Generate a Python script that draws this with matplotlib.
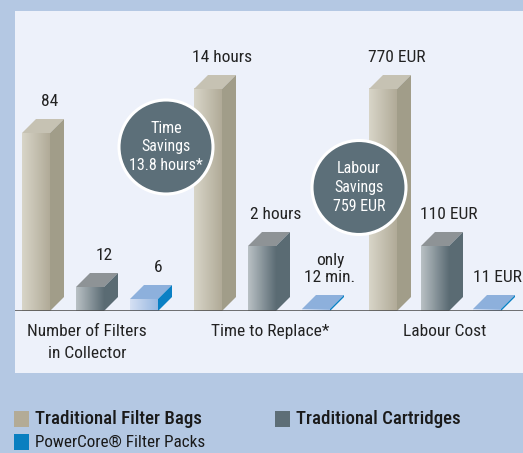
import numpy as np
import matplotlib
matplotlib.use("Agg")
import matplotlib.pyplot as plt
from matplotlib.patches import Polygon, Circle, Rectangle
from matplotlib.colors import LinearSegmentedColormap

plt.rcParams['font.family'] = ['Roboto Condensed', 'DejaVu Sans']

# data: bar heights (relative units), plus the printed labels
categories = ["Number of Filters\nin Collector", "Time to Replace*", "Labour Cost"]
series = ["Traditional Filter Bags", "Traditional Cartridges", "PowerCore® Filter Packs"]
bags_height = [178, 222, 222]
cartridges_height = [24, 65, 65]
packs_height = [12, 2, 2]
bags_labels = ["84", "14 hours", "770 EUR"]
cartridges_labels = ["12", "2 hours", "110 EUR"]
packs_labels = ["6", "only\n12 min.", "11 EUR"]
bubbles = ["Time\nSavings\n13.8 hours*", "Labour\nSavings\n759 EUR"]

# styles: (front left, front right, top, side)
colors = [
    ("#d8d5c8", "#b1ab98", "#c6c2b3", "#a19d89"),
    ("#b9c0c4", "#5c6d75", "#8e9396", "#5a6b73"),
    ("#d5e0f3", "#98b8e1", "#8db0dc", "#0a80c4"),
]
legend_colors = ["#b3ab96", "#5d6e77", "#0a7fc0"]
outer_bg = "#b4c8e3"
inner_bg = "#edf1fa"
bubble_color = "#5c6f79"

W, H = 523, 453
fig = plt.figure(figsize=(W / 100, H / 100), dpi=100, facecolor=outer_bg)

# inner panel
fig.patches.append(Rectangle((15 / W, (H - 373) / H), 1 - 15 / W, 362 / H,
                             transform=fig.transFigure, facecolor=inner_bg,
                             edgecolor="none", zorder=-5))

# axes: 1 data unit = 1 pixel, baseline at y=0
ax = fig.add_axes([15 / W, (H - 311) / H, 508 / W, 300 / H])
ax.set_zorder(1)
ax.set_facecolor("none")
ax.axis("off")

group_start = [7, 179, 354]
bar_pitch = [54, 54, 52]
bar_w = 28
depth = 14

heights = [bags_height, cartridges_height, packs_height]
labels = [bags_labels, cartridges_labels, packs_labels]

for s in range(3):
    fl, fr, top_c, side_c = colors[s]
    cmap = LinearSegmentedColormap.from_list("g%d" % s, [fl, fr])
    for g in range(3):
        x = group_start[g] + s * bar_pitch[g]
        h = heights[s][g]
        grad = np.linspace(0, 1, 64).reshape(1, -1)
        ax.imshow(grad, extent=[x, x + bar_w, 0, h], aspect="auto", cmap=cmap,
                  interpolation="bilinear", zorder=2)
        ax.add_patch(Polygon([(x, h), (x + bar_w, h), (x + bar_w + depth, h + depth),
                              (x + depth, h + depth)], closed=True,
                             facecolor=top_c, edgecolor="none", zorder=2))
        ax.add_patch(Polygon([(x + bar_w, 0), (x + bar_w + depth, depth),
                              (x + bar_w + depth, h + depth), (x + bar_w, h)],
                             closed=True, facecolor=side_c, edgecolor="none", zorder=2))
        # last label sits against the right edge
        lbl_x = x + bar_w if (s, g) != (2, 2) else x + bar_w - 4
        ax.text(lbl_x, h + depth + 10, labels[s][g], ha="center", va="bottom",
                fontsize=12.5, color="#222222", linespacing=1.2)

ax.axhline(0, color="#4a4a4a", lw=1.1, zorder=3)

cat_x = [72, 255, 430]
for g, name in enumerate(categories):
    ax.text(cat_x[g], -13, name, ha="center", va="top", fontsize=12.5,
            color="#222222", linespacing=1.55)

# savings bubbles
bubble_pos = [(151, 164), (344, 123.5)]
for (cx, cy), txt in zip(bubble_pos, bubbles):
    ax.add_patch(Circle((cx, cy), 47, facecolor=bubble_color, edgecolor="white",
                        lw=2.2, zorder=4))
    ax.text(cx, cy, txt, ha="center", va="center", fontsize=11.5, color="white",
            linespacing=1.32, zorder=5)

ax.set_xlim(0, 508)
ax.set_ylim(0, 300)

# legend
legend_pos = [(14, 411, 500, 13.6), (275, 411, 500, 13.6), (14, 434, "normal", 12.3)]
for (lx, ly, wt, fs), name, c in zip(legend_pos, series, legend_colors):
    fig.patches.append(Rectangle((lx / W, (H - ly - 16) / H), 15 / W, 16 / H,
                                 transform=fig.transFigure, facecolor=c,
                                 edgecolor="none"))
    fig.text((lx + 21) / W, (H - ly - 8) / H, name, ha="left", va="center",
             fontsize=fs, fontweight=wt, color="#1a1a1a")

fig.savefig("out.png", dpi=100, facecolor=outer_bg)
